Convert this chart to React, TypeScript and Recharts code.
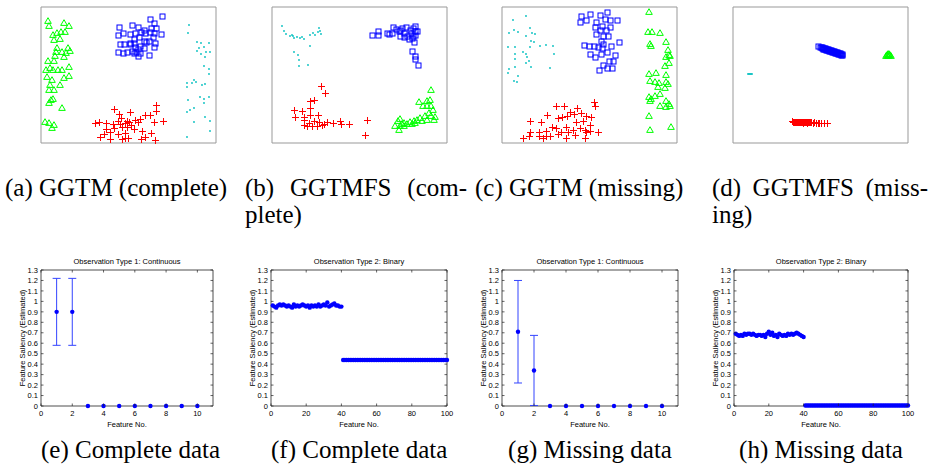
import { ScatterChart, Scatter, XAxis, YAxis, ReferenceArea, ErrorBar } from "recharts";

const FONT = "'Liberation Sans', Arial, Helvetica, sans-serif";
const SERIF = "'Liberation Serif', 'Times New Roman', Times, serif";

// ---- top row: 2-D latent projections (arbitrary units, box = 175 x 136) ----
const aGreen = [[7,122],[8,117],[23,120],[28,117],[12,108],[16,110],[20,111],[24,111],[13,103],[19,104],[16,95],[27,95],[15,91],[21,91],[25,90],[29,92],[23,86],[14,87],[7,82],[13,82],[9,75],[5,73],[12,73],[17,73],[21,73],[28,76],[6,66],[23,65],[28,67],[11,63],[9,58],[19,58],[8,53],[13,53],[10,43],[8,40],[12,44],[21,35],[4,21],[8,20],[13,18],[11,15]];
const aBlue = [[109,124],[121,127],[113,120],[78,116],[91,118],[97,116],[103,113],[110,115],[115,115],[77,108],[82,110],[89,109],[94,110],[100,111],[104,110],[109,111],[113,110],[120,109],[93,104],[98,106],[103,102],[108,102],[112,106],[89,100],[93,100],[99,97],[105,101],[114,100],[79,99],[83,99],[89,99],[94,96],[97,94],[103,95],[113,96],[77,91],[82,90],[86,91],[91,92],[95,91],[99,90],[108,88],[97,87],[93,90]];
const aCyan = [[148,118],[147,110],[156,101],[160,100],[168,100],[158,95],[163,96],[156,92],[165,91],[169,91],[160,89],[164,86],[163,77],[168,74],[168,69],[153,63],[155,61],[146,60],[151,60],[146,56],[161,58],[164,59],[159,46],[163,44],[168,46],[147,43],[163,40],[149,33],[146,31],[153,35],[164,26],[153,21],[169,22],[169,12],[146,6]];
const aRed = [[115,38],[115,32],[73,34],[89,31],[78,29],[104,28],[109,28],[80,25],[86,22],[94,23],[99,24],[54,20],[58,21],[65,20],[72,19],[77,22],[79,19],[84,20],[88,21],[90,18],[97,21],[113,21],[122,22],[65,14],[73,15],[81,16],[86,16],[93,14],[101,12],[69,11],[77,9],[84,10],[63,9],[59,6],[69,4],[84,5],[87,5],[100,4],[104,6],[110,10],[114,3],[81,4]];

const bCyan = [[10,117],[12,112],[14,109],[18,107],[20,108],[22,105],[25,106],[28,105],[30,106],[32,104],[38,108],[41,110],[43,108],[47,115],[48,112],[49,109],[46,111],[38,97],[22,91],[26,88],[27,83],[36,78],[27,77],[21,107]];
const bBlue = [[100,108],[106,112],[106,108],[115,110],[117,109],[120,110],[121,116],[124,114],[127,112],[128,107],[130,115],[132,110],[134,116],[135,107],[138,113],[139,110],[141,115],[143,117],[143,112],[145,112],[141,107],[143,108],[137,104],[140,105],[142,101],[140,92],[143,87],[143,84],[146,78],[132,106],[128,113]];
const bRed = [[49,57],[53,50],[42,43],[38,42],[22,33],[30,32],[38,35],[23,26],[32,26],[38,28],[46,28],[32,23],[37,20],[42,22],[47,21],[52,19],[55,21],[61,20],[68,22],[69,19],[77,19],[40,17],[45,17],[50,18],[95,23],[93,8],[35,17],[32,18]];
const bGreen = [[159,53],[147,41],[155,42],[158,43],[151,37],[155,37],[159,37],[161,33],[157,30],[159,27],[163,26],[153,27],[148,25],[145,23],[142,22],[138,21],[135,19],[132,20],[128,24],[126,22],[123,17],[128,17],[132,17],[127,13],[130,19],[140,19],[143,20],[150,22],[155,23],[162,23]];

const cCyan = [[24,127],[11,123],[12,113],[7,110],[16,111],[28,115],[30,110],[33,109],[24,107],[29,102],[32,101],[38,97],[44,98],[51,97],[6,96],[13,96],[21,91],[28,96],[24,89],[13,89],[52,89],[25,86],[13,84],[27,82],[24,80],[29,76],[7,74],[13,76],[48,75],[6,70],[16,67],[12,62],[15,61]];
const cBlue = [[79,127],[88,129],[98,128],[105,131],[84,123],[94,121],[103,124],[108,123],[115,123],[78,121],[93,116],[100,117],[108,116],[98,113],[104,113],[94,109],[101,107],[106,107],[99,102],[101,99],[82,98],[87,97],[92,97],[96,96],[100,95],[109,97],[117,101],[88,89],[93,86],[99,89],[105,91],[113,88],[107,82],[111,82],[101,78],[105,75],[110,75],[97,73]];
const cGreen = [[147,131],[146,111],[150,111],[158,110],[148,99],[149,97],[164,101],[166,93],[167,88],[164,86],[168,87],[167,80],[163,77],[147,69],[154,70],[164,68],[148,62],[153,61],[157,60],[164,61],[166,59],[156,56],[163,55],[158,49],[147,46],[149,44],[148,42],[153,47],[164,42],[167,39],[168,37],[164,36],[158,37],[147,27],[169,16],[148,13]];
const cRed = [[92,41],[93,37],[54,37],[62,37],[75,35],[68,31],[79,30],[72,29],[45,28],[56,25],[60,26],[65,27],[84,27],[89,26],[28,22],[39,21],[74,21],[81,22],[88,18],[50,16],[54,15],[64,16],[71,13],[78,15],[83,13],[88,12],[96,11],[28,11],[37,11],[44,12],[48,7],[59,11],[66,11],[84,11],[21,5],[27,7],[37,7],[41,5],[44,7],[64,5],[73,8],[83,5],[56,9]];

const dCyan = [[15,69],[16,69],[17,69],[18,69],[19,69]];
const dBlue = [
  [85,97],[87,96.4],[88,96],[89,95.6],[90,95.2],[91,95],[92,94.7],[93,94.3],[94,94],[95,93.6],[96,93.3],[97,93],[98,92.6],[99,92.3],
  [100,92],[101,91.6],[102,91.3],[103,91],[104,90.6],[105,90.3],[106,90],[107,89.6],[108,89.2],[109,88.8],
  [89,94.6],[90,94.2],[91,94],[92,93.7],[93,93.3],[94,93],[95,92.6],[96,92.3],[97,92],[98,91.6],[99,91.3],[100,91],
  [101,90.6],[102,90.3],[103,90],[104,89.6],[105,89.3],[106,89],[107,88.6],[108,88.2],[109,87.9],
];
const dGreen = [[153,87],[154,88],[155,89],[156,89],[157,88],[158,87],[155,87],[156,87.5]];
const dRed = [
  [59,21.6],[60,21.5],[61,21.4],[62,21.5],[63,21.3],[64,21.4],[65,21.2],[66,21.3],[67,21.1],[68,21.2],[69,21],[70,21.1],
  [71,20.9],[72,21],[73,20.8],[74,20.9],[75,20.7],[76,20.8],[77,20.6],[78,20.7],[80,20.5],[81,20.6],[83,20.4],[85,20.3],
  [86,20.4],[88,20.2],[91,20.2],[94,20],[62,20.8],[66,20.7],[70,20.5],[74,20.3],
];

// ---- bottom row: feature saliency ----
const contFeatureNo = [1, 2, 3, 4, 5, 6, 7, 8, 9, 10];
const eSaliency = [0.9, 0.9, 0, 0, 0, 0, 0, 0, 0, 0];
const eError = [0.32, 0.32, 0, 0, 0, 0, 0, 0, 0, 0];
const gSaliency = [0.71, 0.34, 0, 0, 0, 0, 0, 0, 0, 0];
const gError = [0.49, 0.335, 0, 0, 0, 0, 0, 0, 0, 0];

const fSaliency = [
  0.96, 0.95, 0.94, 0.96, 0.97, 0.96, 0.97, 0.96, 0.95, 0.96, 0.95, 0.94, 0.97, 0.95, 0.96, 0.95, 0.96, 0.97, 0.96, 0.95,
  0.96, 0.94, 0.96, 0.95, 0.96, 0.95, 0.97, 0.95, 0.96, 0.97, 0.96, 0.99, 0.95, 0.96, 0.97, 0.98, 0.96, 0.96, 0.95, 0.95,
  0.44, 0.44, 0.44, 0.44, 0.44, 0.44, 0.44, 0.44, 0.44, 0.44, 0.44, 0.44, 0.44, 0.44, 0.44, 0.44, 0.44, 0.44, 0.44, 0.44,
  0.44, 0.44, 0.44, 0.44, 0.44, 0.44, 0.44, 0.44, 0.44, 0.44, 0.44, 0.44, 0.44, 0.44, 0.44, 0.44, 0.44, 0.44, 0.44, 0.44,
  0.44, 0.44, 0.44, 0.44, 0.44, 0.44, 0.44, 0.44, 0.44, 0.44, 0.44, 0.44, 0.44, 0.44, 0.44, 0.44, 0.44, 0.44, 0.44, 0.44,
];
const hSaliency = [
  0.69, 0.68, 0.67, 0.68, 0.67, 0.69, 0.68, 0.69, 0.69, 0.68, 0.69, 0.68, 0.67, 0.68, 0.68, 0.67, 0.68, 0.66, 0.69, 0.71,
  0.68, 0.7, 0.67, 0.68, 0.66, 0.69, 0.68, 0.67, 0.68, 0.67, 0.69, 0.68, 0.69, 0.68, 0.69, 0.7, 0.69, 0.68, 0.67, 0.66,
  0.005, 0.005, 0.005, 0.005, 0.005, 0.005, 0.005, 0.005, 0.005, 0.005, 0.005, 0.005, 0.005, 0.005, 0.005, 0.005, 0.005, 0.005, 0.005, 0.005,
  0.005, 0.005, 0.005, 0.005, 0.005, 0.005, 0.005, 0.005, 0.005, 0.005, 0.005, 0.005, 0.005, 0.005, 0.005, 0.005, 0.005, 0.005, 0.005, 0.005,
  0.005, 0.005, 0.005, 0.005, 0.005, 0.005, 0.005, 0.005, 0.005, 0.005, 0.005, 0.005, 0.005, 0.005, 0.005, 0.005, 0.005, 0.005, 0.005, 0.005,
];

const contTicks = [0, 2, 4, 6, 8, 10];
const binTicks = [0, 20, 40, 60, 80, 100];
const yTicks = [0, 0.1, 0.2, 0.3, 0.4, 0.5, 0.6, 0.7, 0.8, 0.9, 1, 1.1, 1.2, 1.3];

const toPts = (arr: number[][]) => arr.map(([x, y]) => ({ x, y }));
// snap to pixel centres so 1px strokes stay solid
const px = (v: number) => Math.round(v) + 0.5;

// marker shapes (matlab style)
const triShape = (p: any) => (
  <path d={`M${p.cx},${p.cy - 3.3}L${p.cx + 3.3},${p.cy + 2.4}L${p.cx - 3.3},${p.cy + 2.4}Z`} fill="none" stroke="#00ff00" strokeWidth={1} />
);
const sqShape = (p: any) => {
  const x = px(p.cx), y = px(p.cy);
  return <rect x={x - 2.5} y={y - 2.5} width={5} height={5} fill="none" stroke="#0000ff" strokeWidth={1} />;
};
const plusShape = (p: any) => {
  const x = px(p.cx), y = px(p.cy);
  return <path d={`M${x - 3.5},${y}H${x + 3.5}M${x},${y - 3.5}V${y + 3.5}`} stroke="#ff0000" strokeWidth={1} />;
};
const dotShape = (p: any) => <circle cx={p.cx} cy={p.cy} r={0.9} fill="#00bfbf" />;
const blueDot = (p: any) => <circle cx={p.cx} cy={p.cy} r={2.2} fill="#0000ff" />;

function ClusterPanel({ left, width, green, blue, red, cyan }: any) {
  return (
    <div style={{ position: "absolute", left: left - 1, top: 6 }}>
      <ScatterChart width={width + 2} height={138} margin={{ top: 1, right: 1, bottom: 1, left: 1 }}>
        <XAxis type="number" dataKey="x" domain={[0, 175]} hide />
        <YAxis type="number" dataKey="y" domain={[0, 136]} hide />
        <ReferenceArea x1={0} x2={175} y1={0} y2={136} fill="none" stroke="#999" strokeWidth={1} />
        <Scatter data={toPts(cyan)} shape={dotShape} isAnimationActive={false} />
        <Scatter data={toPts(green)} shape={triShape} isAnimationActive={false} />
        <Scatter data={toPts(blue)} shape={sqShape} isAnimationActive={false} />
        <Scatter data={toPts(red)} shape={plusShape} isAnimationActive={false} />
      </ScatterChart>
    </div>
  );
}

const fmtY = (v: number) => String(Number(v.toFixed(1)));

function SaliencyPanel({ chartLeft, plotW, title, xMax, xTicks, xs, ys, errs }: any) {
  const plotH = 136;
  const data = ys.map((y: number, i: number) => ({ x: xs ? xs[i] : i + 1, y, err: errs ? errs[i] : 0 }));

  const xTick = (p: any) => (
    <g>
      <line x1={p.x} y1={p.y} x2={p.x} y2={p.y - 2.5} stroke="#222" strokeWidth={0.7} />
      <line x1={p.x} y1={p.y - plotH} x2={p.x} y2={p.y - plotH + 2.5} stroke="#222" strokeWidth={0.7} />
      <text x={p.x} y={p.y + 10} textAnchor="middle" fontSize={7.5} fontFamily={FONT} fill="#000">
        {p.payload.value}
      </text>
    </g>
  );
  const yTick = (p: any) => (
    <g>
      <line x1={p.x} y1={p.y} x2={p.x + 2.5} y2={p.y} stroke="#222" strokeWidth={0.7} />
      <line x1={p.x + plotW} y1={p.y} x2={p.x + plotW - 2.5} y2={p.y} stroke="#222" strokeWidth={0.7} />
      <text x={p.x - 3} y={p.y + 2.7} textAnchor="end" fontSize={7.5} fontFamily={FONT} fill="#000">
        {fmtY(p.payload.value)}
      </text>
    </g>
  );

  return (
    <>
      <div
        style={{
          position: "absolute",
          left: chartLeft + 41,
          top: 257,
          width: plotW,
          textAlign: "center",
          fontFamily: FONT,
          fontSize: 7.5,
          lineHeight: "9px",
          whiteSpace: "nowrap",
        }}
      >
        {title}
      </div>
      <div style={{ position: "absolute", left: chartLeft, top: 250 }}>
        <ScatterChart width={240} height={180} margin={{ top: 20, right: 240 - 41 - plotW, bottom: 0, left: 11 }}>
          <XAxis
            type="number"
            dataKey="x"
            domain={[0, xMax]}
            ticks={xTicks}
            interval={0}
            height={24}
            tickSize={0}
            tickMargin={0}
            axisLine={false}
            tickLine={false}
            tick={xTick}
            label={{ value: "Feature No.", position: "insideBottom", offset: 3, style: { fontSize: 7.5, fontFamily: FONT, fill: "#000" } }}
          />
          <YAxis
            type="number"
            dataKey="y"
            domain={[0, 1.3]}
            ticks={yTicks}
            interval={0}
            width={30}
            tickSize={0}
            tickMargin={0}
            axisLine={false}
            tickLine={false}
            tick={yTick}
            label={{
              value: "Feature Saliency (Estimated)",
              angle: -90,
              position: "insideLeft",
              offset: 11,
              style: { textAnchor: "middle", fontSize: 7.5, fontFamily: FONT, fill: "#000" },
            }}
          />
          <ReferenceArea x1={0} x2={xMax} y1={0} y2={1.3} fill="none" stroke="#222" strokeWidth={0.8} />
          <Scatter data={data} shape={blueDot} isAnimationActive={false}>
            {errs && <ErrorBar dataKey="err" direction="y" width={4} stroke="#3344ff" strokeWidth={1} />}
          </Scatter>
        </ScatterChart>
      </div>
    </>
  );
}

const capStyle: any = { position: "absolute", fontFamily: SERIF, fontSize: 25, lineHeight: "27px", color: "#000", whiteSpace: "nowrap" };
const justified: any = { ...capStyle, whiteSpace: "normal", textAlign: "justify", textAlignLast: "justify" };

export default function App() {
  return (
    <div style={{ position: "fixed", left: 0, top: 0, width: 933, height: 466, background: "#fff", overflow: "hidden" }}>
      <ClusterPanel left={41} width={175} green={aGreen} blue={aBlue} red={aRed} cyan={aCyan} />
      <ClusterPanel left={272} width={175} green={bGreen} blue={bBlue} red={bRed} cyan={bCyan} />
      <ClusterPanel left={502} width={175} green={cGreen} blue={cBlue} red={cRed} cyan={cCyan} />
      <ClusterPanel left={733} width={175} green={dGreen} blue={dBlue} red={dRed} cyan={dCyan} />

      <div style={{ ...capStyle, left: 5, top: 174 }}>(a) GGTM (complete)</div>
      <div style={{ ...justified, left: 245, top: 174, width: 222 }}>(b) GGTMFS (com-</div>
      <div style={{ ...capStyle, left: 245, top: 201 }}>plete)</div>
      <div style={{ ...capStyle, left: 475, top: 174 }}>(c) GGTM (missing)</div>
      <div style={{ ...justified, left: 712, top: 174, width: 216 }}>(d) GGTMFS (miss-</div>
      <div style={{ ...capStyle, left: 712, top: 201 }}>ing)</div>

      <SaliencyPanel chartLeft={0} plotW={172} title="Observation Type 1: Continuous" xMax={11} xTicks={contTicks} xs={contFeatureNo} ys={eSaliency} errs={eError} />
      <SaliencyPanel chartLeft={230} plotW={176} title="Observation Type 2: Binary" xMax={100} xTicks={binTicks} ys={fSaliency} />
      <SaliencyPanel chartLeft={461} plotW={176} title="Observation Type 1: Continuous" xMax={11} xTicks={contTicks} xs={contFeatureNo} ys={gSaliency} errs={gError} />
      <SaliencyPanel chartLeft={693} plotW={174} title="Observation Type 2: Binary" xMax={100} xTicks={binTicks} ys={hSaliency} />

      <div style={{ ...capStyle, left: 41, width: 172, top: 436, textAlign: "center" }}>(e) Complete data</div>
      <div style={{ ...capStyle, left: 271, width: 176, top: 436, textAlign: "center" }}>(f) Complete data</div>
      <div style={{ ...capStyle, left: 502, width: 176, top: 436, textAlign: "center" }}>(g) Missing data</div>
      <div style={{ ...capStyle, left: 734, width: 174, top: 436, textAlign: "center" }}>(h) Missing data</div>
    </div>
  );
}
